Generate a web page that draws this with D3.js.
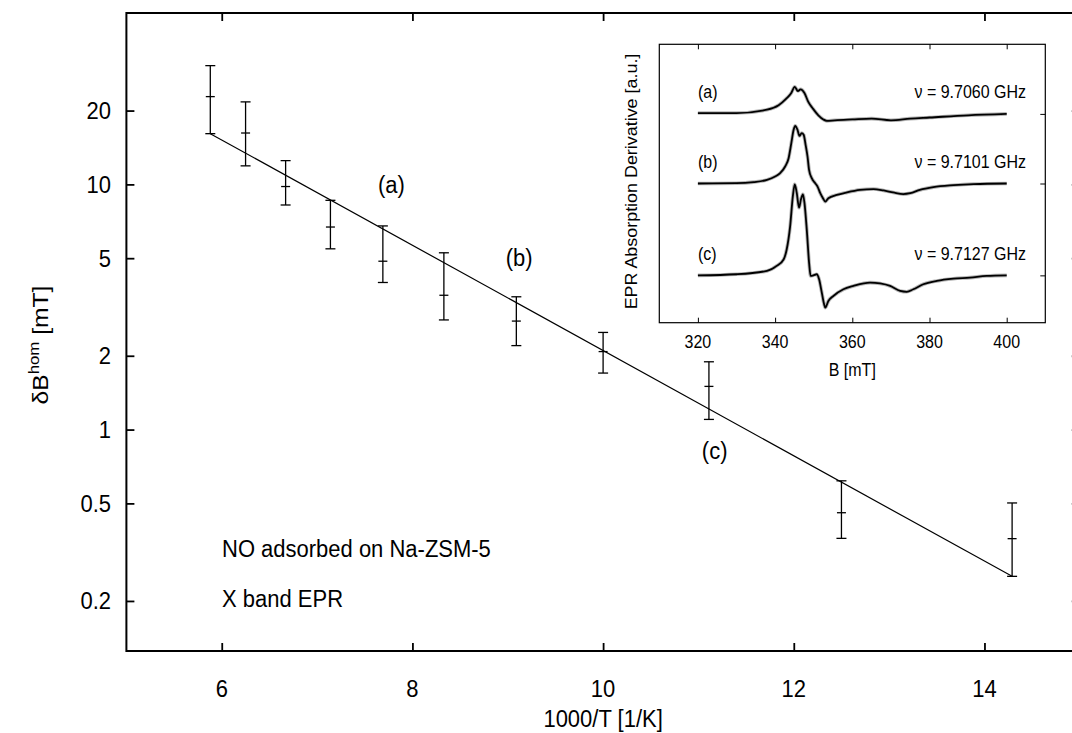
<!DOCTYPE html>
<html><head><meta charset="utf-8">
<script src="https://cdn.jsdelivr.net/npm/d3@7"></script>
<style>html,body{margin:0;padding:0;background:#fff;overflow:hidden}</style>
</head><body>
<svg id="chart" width="1072" height="733"></svg>
<script>
// ---------- main data ----------
const invT   = [5.88, 6.25, 6.67, 7.14, 7.69, 8.33, 9.09, 10.0, 11.11, 12.5, 14.29];
const dB     = [22.8, 16.2, 9.8, 6.7, 4.86, 3.53, 2.77, 2.08, 1.50, 0.458, 0.359];
const dBlo   = [16.1, 11.9, 8.24, 5.46, 3.98, 2.80, 2.20, 1.70, 1.10, 0.360, 0.252];
const dBhi   = [30.5, 21.7, 12.5, 8.61, 6.77, 5.26, 3.48, 2.49, 1.89, 0.618, 0.502];
const fitX   = [5.88, 14.29];
const fitY   = [16.1, 0.252];
const xTicks = [6, 8, 10, 12, 14];
const yTicks = [0.2, 0.5, 1, 2, 5, 10, 20];
const labels = ["(a)", "(b)", "(c)"];
const labelX = [7.78, 9.12, 11.17];
const labelY = [9.9, 5.0, 0.82];
const notes  = ["NO adsorbed on Na-ZSM-5", "X band EPR"];
const noteY  = [0.325, 0.203];

// ---------- inset data (B in mT, derivative in a.u. relative to baseline) ----------
const specNames = ["(a)", "(b)", "(c)"];
const specFreq  = ["ν = 9.7060 GHz", "ν = 9.7101 GHz", "ν = 9.7127 GHz"];
const specBase  = [7.5, 5.0, 1.7];
const specAB = [320,330,337.9,340.9,342.9,344.1,345.1,345.9,346.6,347.6,348.6,349.8,351.2,352.5,353.4,355.5,360,365,370,375,380,390,400];
const specAV = [0.03,0.03,0.15,0.31,0.55,0.73,0.97,0.82,0.88,0.75,0.43,0.19,-0.05,-0.20,-0.25,-0.23,-0.20,-0.17,-0.23,-0.17,-0.13,-0.05,0];
const specBB = [320,330,334.4,337.9,340,341.3,342.6,343.5,344.2,344.8,345.2,345.8,346.3,346.9,347.4,347.9,348.4,348.8,349.5,350.4,351.0,351.7,352.4,353.0,353.8,356.0,358.6,362.0,365.5,368.1,370.6,373.2,375.0,377.5,381.0,386.2,391.4,400];
const specBV = [0,0.01,0.05,0.13,0.25,0.37,0.61,0.91,1.45,1.93,2.07,1.93,1.71,1.81,1.75,1.39,0.97,0.49,0.19,0.01,-0.11,-0.35,-0.53,-0.65,-0.53,-0.41,-0.32,-0.23,-0.20,-0.25,-0.32,-0.38,-0.35,-0.23,-0.13,-0.06,-0.02,0];
const specCB = [320,330,337.9,340.4,342.2,343.0,343.9,344.6,345.1,345.6,346.2,346.7,347.2,347.6,348.2,348.8,349.2,349.9,350.8,351.4,352.1,352.7,353.0,353.8,355.1,357.7,360.3,364.6,367.2,369.8,372.4,374.1,375.8,378.4,381.9,386.2,390.5,394.8,400];
const specCV = [0,0.04,0.16,0.34,0.57,0.93,1.77,2.85,3.27,2.97,2.43,2.73,2.91,2.61,1.65,0.46,-0.02,0,0.04,-0.14,-0.62,-1.04,-1.16,-0.92,-0.74,-0.50,-0.38,-0.26,-0.29,-0.38,-0.56,-0.59,-0.50,-0.32,-0.20,-0.12,-0.08,-0.02,0];
const insetXTicks = [320, 340, 360, 380, 400];

// ---------- drawing ----------
const SY = 1.12;           // vertical text stretch seen in the reference
const FONT = "'Liberation Sans', Arial, Helvetica, sans-serif";
const svg = d3.select("#chart");

const x = d3.scaleLinear().domain([5, 15]).range([126.4, 1079.8]);
const y = d3.scaleLog().domain([0.125, 50]).range([651, 13]);

function text(g, px, py, str, size, anchor, rot) {
  const t = g.append("g")
    .attr("transform", `translate(${px},${py}) scale(1,${SY})` + (rot ? ` rotate(${rot})` : ""))
    .append("text")
    .attr("font-family", FONT).attr("font-size", size)
    .attr("text-anchor", anchor || "start").attr("fill", "#000");
  if (str !== null) t.text(str);
  return t;
}

// frame
const main = svg.append("g");
main.append("rect").attr("x", x(5)).attr("y", y(50))
  .attr("width", x(15) - x(5)).attr("height", y(0.125) - y(50))
  .attr("fill", "none").attr("stroke", "#000").attr("stroke-width", 2);

// axes via d3 axis generators (ticks inward)
const axB = d3.axisBottom(x).tickValues(xTicks).tickSizeInner(-8).tickSizeOuter(0).tickFormat("");
const axT = d3.axisTop(x).tickValues(xTicks).tickSizeInner(-8).tickSizeOuter(0).tickFormat("");
const axL = d3.axisLeft(y).tickValues(yTicks).tickSizeInner(-8).tickSizeOuter(0).tickFormat("");
const axR = d3.axisRight(y).tickValues(yTicks).tickSizeInner(-8).tickSizeOuter(0).tickFormat("");
[[axB, `translate(0,${y(0.125)})`], [axT, `translate(0,${y(50)})`],
 [axL, `translate(${x(5)},0)`], [axR, `translate(${x(15)},0)`]].forEach(([a, tr]) => {
  const g = main.append("g").attr("transform", tr).call(a);
  g.select(".domain").remove();
  g.selectAll("line").attr("stroke", "#000").attr("stroke-width", 1.8);
});

// tick labels
xTicks.forEach(v => text(main, x(v), 697, String(v), 22, "middle"));
yTicks.forEach(v => text(main, 111, y(v) + 8.5, String(v), 22, "end"));

// axis titles
text(main, x(10), 727, "1000/T [1/K]", 22, "middle");
const yl = text(main, 48, 345, null, 22, "middle", -90);
yl.append("tspan").text("δB");
yl.append("tspan").attr("font-size", 15).attr("dy", -9).text("hom");
yl.append("tspan").attr("dy", 9).text(" [mT]");

// fit line
main.append("path")
  .attr("d", d3.line().x(d => x(d[0])).y(d => y(d[1]))(fitX.map((v, i) => [v, fitY[i]])))
  .attr("fill", "none").attr("stroke", "#000").attr("stroke-width", 1.2);

// error bars with centre crosses
const eb = main.append("g").attr("stroke", "#000").attr("stroke-width", 1.3);
invT.forEach((v, i) => {
  const cx = x(v);
  eb.append("line").attr("x1", cx).attr("x2", cx).attr("y1", y(dBlo[i])).attr("y2", y(dBhi[i]));
  eb.append("line").attr("x1", cx - 5).attr("x2", cx + 5).attr("y1", y(dBlo[i])).attr("y2", y(dBlo[i]));
  eb.append("line").attr("x1", cx - 5).attr("x2", cx + 5).attr("y1", y(dBhi[i])).attr("y2", y(dBhi[i]));
  eb.append("line").attr("x1", cx - 4.5).attr("x2", cx + 4.5).attr("y1", y(dB[i])).attr("y2", y(dB[i]));
});

// annotations
labels.forEach((s, i) => text(main, x(labelX[i]), y(labelY[i]) + 8, s, 22, "middle"));
notes.forEach((s, i) => text(main, 222, y(noteY[i]) + 8, s, 22, "start"));

// ---------- inset ----------
const ins = svg.append("g");
const ix = d3.scaleLinear().domain([310, 410]).range([659.3, 1045.3]);
const iy = d3.scaleLinear().domain([0, 10]).range([322.7, 44.3]);
ins.append("rect").attr("x", ix(310)).attr("y", iy(10))
  .attr("width", ix(410) - ix(310)).attr("height", iy(0) - iy(10))
  .attr("fill", "#fff").attr("stroke", "#000").attr("stroke-width", 1.2);
const iaB = d3.axisBottom(ix).tickValues(insetXTicks).tickSizeInner(-5).tickSizeOuter(0).tickFormat("");
const iaT = d3.axisTop(ix).tickValues(insetXTicks).tickSizeInner(-5).tickSizeOuter(0).tickFormat("");
const iaR = d3.axisRight(iy).tickValues(specBase).tickSizeInner(-5).tickSizeOuter(0).tickFormat("");
[[iaB, `translate(0,${iy(0)})`], [iaT, `translate(0,${iy(10)})`], [iaR, `translate(${ix(410)},0)`]].forEach(([a, tr]) => {
  const g = ins.append("g").attr("transform", tr).call(a);
  g.select(".domain").remove();
  g.selectAll("line").attr("stroke", "#000").attr("stroke-width", 1);
});
insetXTicks.forEach(v => text(ins, ix(v), 347.5, String(v), 16, "middle"));
text(ins, ix(360), 376, "B [mT]", 16, "middle");
text(ins, 637, 181.5, "EPR Absorption Derivative [a.u.]", 16, "middle", -90);

const spectra = [[specAB, specAV], [specBB, specBV], [specCB, specCV]];
const sl = d3.line().curve(d3.curveMonotoneX);
spectra.forEach(([bs, vs], k) => {
  const pts = bs.map((b, i) => [ix(b), iy(specBase[k] + vs[i])]);
  ins.append("path").attr("d", sl(pts)).attr("fill", "none")
    .attr("stroke", "#777").attr("stroke-width", 3.6).attr("stroke-opacity", 0.55);
  ins.append("path").attr("d", sl(pts)).attr("fill", "none")
    .attr("stroke", "#000").attr("stroke-width", 1.8);
  text(ins, 698, iy(specBase[k]) - 15.5, specNames[k], 16, "start");
  text(ins, 1026, iy(specBase[k]) - 15.5, specFreq[k], 16, "end");
});
</script>
</body></html>
